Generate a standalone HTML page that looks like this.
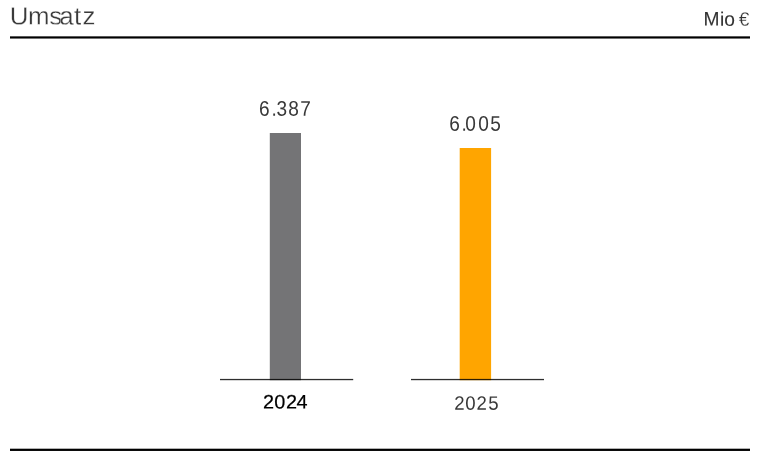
<!DOCTYPE html>
<html lang="de">
<head>
<meta charset="utf-8">
<title>Umsatz</title>
<style>
html,body{margin:0;padding:0;background:#fff;}
body{width:761px;height:464px;overflow:hidden;}
svg{display:block;}
text{font-family:"Liberation Sans",Arial,Helvetica,sans-serif;}
</style>
</head>
<body>
<svg width="761" height="464" viewBox="0 0 761 464">
  <rect x="0" y="0" width="761" height="464" fill="#ffffff"/>
  <rect x="10" y="36.35" width="740" height="2.2" fill="#000"/>
  <rect x="269.8" y="133" width="31.2" height="247.2" fill="#747476"/>
  <rect x="459.7" y="148" width="31.4" height="232.2" fill="#ffa500"/>
  <rect x="220" y="378.9" width="133.2" height="1.3" fill="#000" fill-opacity="0.82"/>
  <rect x="411" y="378.9" width="133" height="1.3" fill="#000" fill-opacity="0.82"/>
  <rect x="10" y="448.7" width="740" height="2.25" fill="#000"/>
  <text id="t_title" fill="#3a3a3a" stroke="#fff" stroke-width="0.3" transform="matrix(1.04 0.0005 0 1 0 0)" x="9.31 26.88 47.31 56.89 71.10 79.22" y="24.525" font-size="24.9">Umsatz</text>
  <text id="t_unit" fill="#333" stroke="#333" stroke-width="0.1" transform="matrix(0.985 0.0005 0 1 0 0)" x="714.14 730.86 735.35 736.35 750.02" y="25.281" font-size="19.5">Mio <tspan stroke="#fff" stroke-width="0.25">€</tspan></text>
  <text id="t_v1" fill="#383838" transform="matrix(0.9 0.0005 0 1 0 0)" x="287.88 301.61 307.11 320.20 333.50" y="115.492" font-size="21.2">6.387</text>
  <text id="t_v2" fill="#383838" transform="matrix(0.9 0.0005 0 1 0 0)" x="499.07 512.72 516.92 531.31 544.71" y="130.436" font-size="21.2">6.005</text>
  <text id="t_c1" fill="#000" stroke="#000" stroke-width="0.2" transform="matrix(1.02 0.0005 0 1 0 0)" x="257.75 268.81 280.47 290.75" y="408.46" font-size="19.5">2024</text>
  <text id="t_c2" fill="#383838" transform="matrix(0.96 0.0005 0 1 0 0)" x="473.21 484.71 496.29 508.69" y="409.502" font-size="19.4">2025</text>
</svg>
</body>
</html>
